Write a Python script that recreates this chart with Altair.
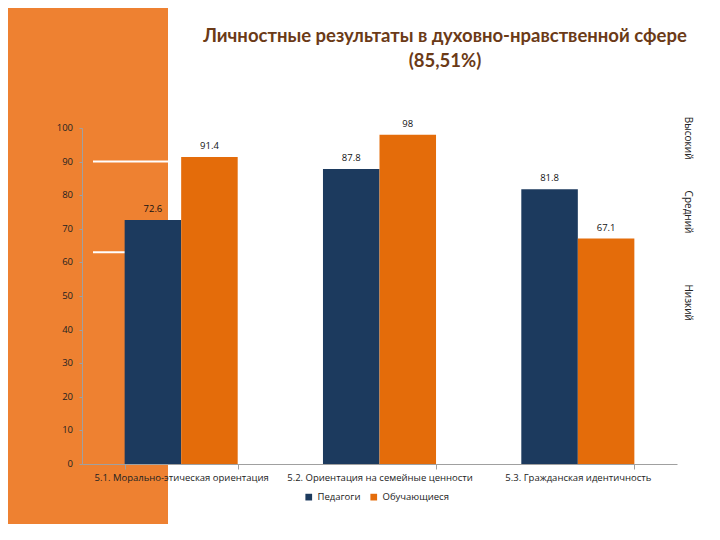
import altair as alt
import pandas as pd

categories = ["5.1. Морально-этическая ориентация",
              "5.2. Ориентация на семейные ценности",
              "5.3. Гражданская идентичность"]
series = ["Педагоги", "Обучающиеся"]
teachers = [72.6, 87.8, 81.8]
students = [91.4, 98.0, 67.1]
levels = ["Высокий", "Средний", "Низкий"]
level_y = [97, 75, 48]
thresholds = [90, 63]
title_lines = ["Личностные результаты в духовно-нравственной сфере", "(85,51%)"]
y_ticks = [0, 10, 20, 30, 40, 50, 60, 70, 80, 90, 100]

rows = []
for c, t, s in zip(categories, teachers, students):
    rows.append({"cat": c, "series": series[0], "value": t})
    rows.append({"cat": c, "series": series[1], "value": s})
df = pd.DataFrame(rows)
lv = pd.DataFrame({"level": levels, "y": level_y})
th = pd.DataFrame({"t": thresholds})
tk = pd.DataFrame({"tick": y_ticks})

NAVY = "#1C3A5E"
ORANGE = "#E46C0A"
BG = "#EE8131"

W, H = 595, 336

one = pd.DataFrame({"a": [0]})

yscale = alt.Scale(domain=[0, 100], nice=False)
yaxis = alt.Axis(values=y_ticks, grid=False, labels=False,
                 domainColor="#A0A0A0", tickColor="#A0A0A0",
                 tickSize=3, zindex=1)

bg = alt.Chart(one).mark_rect(color=BG).encode(
    x=alt.value(-74), x2=alt.value(86), y=alt.value(-120), y2=alt.value(H + 60)
)

title = alt.Chart(one).mark_text(
    text=title_lines, fontSize=18.5, font="Lato", fontWeight="bold",
    color="#6B3A17", align="center", baseline="middle", lineHeight=25
).encode(x=alt.value(363), y=alt.value(-92))

rules = alt.Chart(th).mark_rule(color="white", strokeWidth=2).encode(
    y=alt.Y("t:Q", scale=yscale, axis=yaxis, title=None),
    x=alt.value(11), x2=alt.value(W)
)

ylabels = alt.Chart(tk).mark_text(fontSize=9.5, font="Open Sans", color="#222",
                                  align="right", baseline="middle").encode(
    y=alt.Y("tick:Q", scale=yscale, axis=yaxis, title=None),
    x=alt.value(-9),
    text=alt.Text("tick:Q", format="d")
)

xenc = alt.X("cat:N", sort=categories, title=None,
             scale=alt.Scale(paddingInner=0.43, paddingOuter=0.215),
             axis=alt.Axis(labelAngle=0, labelFontSize=9.5, labelColor="#222",
                           domainColor="#A0A0A0", tickColor="#A0A0A0",
                           tickBand="extent", tickSize=5, labelPadding=3,
                           labelFont="Open Sans", labelLimit=300, zindex=1))

bars = alt.Chart(df).mark_bar().encode(
    x=xenc,
    xOffset=alt.XOffset("series:N", sort=series),
    y=alt.Y("value:Q", scale=yscale, title=None, axis=yaxis),
    color=alt.Color("series:N", sort=series,
                    scale=alt.Scale(domain=series, range=[NAVY, ORANGE]),
                    legend=alt.Legend(title=None, orient="none", direction="horizontal",
                                      legendX=222, legendY=364, symbolType="square",
                                      symbolSize=45, symbolStrokeWidth=0,
                                      labelFontSize=9.5, labelFont="Open Sans",
                                      labelColor="#222", columnPadding=8,
                                      symbolOffset=0))
)

labels = alt.Chart(df).mark_text(fontSize=9.5, font="Open Sans", color="#111",
                                 baseline="bottom", dy=-6).encode(
    x=alt.X("cat:N", sort=categories),
    xOffset=alt.XOffset("series:N", sort=series),
    y=alt.Y("value:Q", scale=yscale, axis=yaxis, title=None),
    text=alt.Text("value:Q", format=".1~f")
)

zones = alt.Chart(lv).mark_text(angle=90, fontSize=10, font="Open Sans",
                                color="#222").encode(
    y=alt.Y("y:Q", scale=yscale, axis=yaxis, title=None),
    x=alt.value(W + 11),
    text="level:N"
)

chart = alt.layer(bg, title, rules, ylabels, bars, labels, zones).properties(
    width=W, height=H,
    padding={"left": 74, "top": 120, "right": 35, "bottom": 60},
    autosize=alt.AutoSizeParams(type="none"),
    background="white"
).configure_view(stroke=None)

chart.save("out.html", embed_options={"renderer": "svg", "actions": False})
